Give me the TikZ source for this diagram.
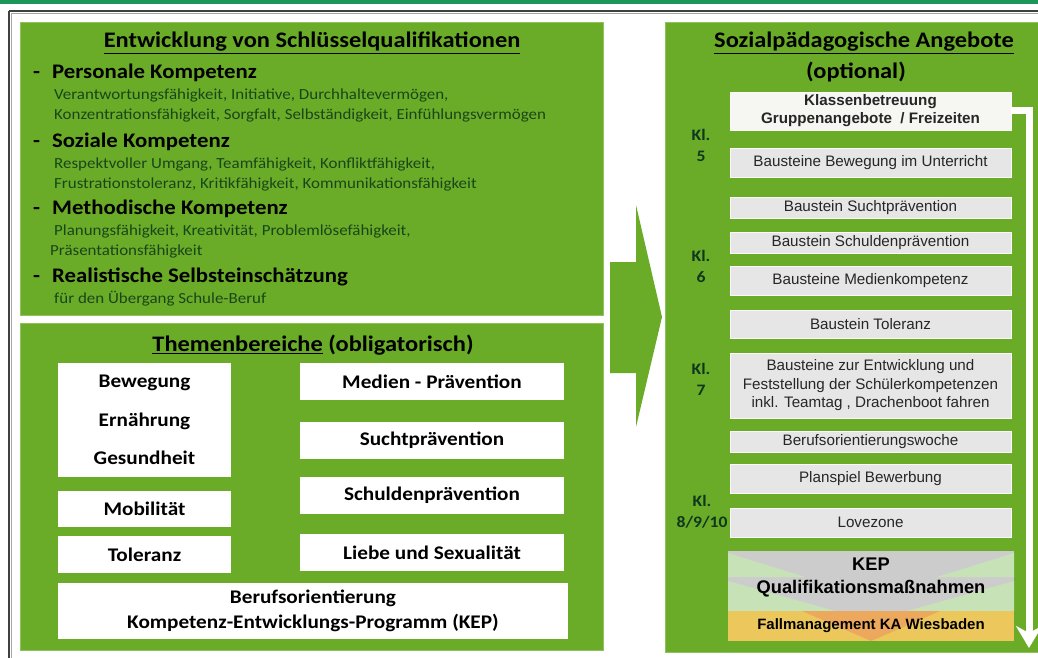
\documentclass[tikz,border=0pt]{standalone}
\usepackage{fontspec}
\setmainfont{Carlito}[FakeStretch=1.1]
\newfontfamily\arialfont{Liberation Sans}
\usetikzlibrary{arrows.meta,positioning}
\definecolor{panelgreen}{RGB}{106,172,40}
\definecolor{topteal}{RGB}{30,150,90}
\definecolor{subgreen}{RGB}{25,70,25}
\definecolor{klgreen}{RGB}{15,55,30}
\definecolor{boxgray}{RGB}{230,230,230}
\definecolor{boxwhite}{RGB}{246,246,242}
\definecolor{keplight}{RGB}{200,226,184}
\definecolor{kepgray}{RGB}{204,204,204}
\definecolor{kepyellow}{RGB}{236,200,92}
\definecolor{keporange}{RGB}{236,168,92}

\begin{document}
\begin{tikzpicture}[x=1pt,y=-1pt,
  every node/.style={inner sep=0pt},
  panel/.style={fill=panelgreen,draw=panelgreen!75!white,line width=0.8pt},
  title/.style={font=\fontsize{22.2}{26}\selectfont\bfseries},
  head/.style={font=\fontsize{20.7}{24}\selectfont\bfseries,anchor=base west},
  detail/.style={font=\fontsize{15.4}{20}\selectfont,text=subgreen,anchor=base west},
  topicbox/.style={fill=white,font=\fontsize{19.3}{25}\selectfont\bfseries,align=center},
  modbox/.style={fill=boxgray,draw=white!85!boxgray,minimum width=281pt,
    font=\arialfont\fontsize{15.2}{18.5}\selectfont,text=black!85,align=center},
  kllabel/.style={font=\fontsize{16}{21}\selectfont\bfseries,text=klgreen,align=center},
  flowline/.style={white,line width=7pt,-{Stealth[length=22pt,width=26pt,inset=7pt]}}]

\useasboundingbox (0,0) rectangle (1038,658);

% frame lines
\fill[topteal] (0,0) rectangle (1038,4);
\draw[black!75,line width=1.6pt] (9,11) -- (1038,11);
\draw[black!35,line width=1pt] (11,13.5) -- (1038,13.5);
\draw[black!75,line width=1.6pt] (9,11) -- (9,658);
\draw[black!35,line width=1pt] (11.5,13.5) -- (11.5,658);

% Schluesselqualifikationen
\draw[panel] (20,22) rectangle (603,315);
\node[title] (skilltitle) at (312,43) {\underline{Entwicklung von Schlüsselqualifikationen}};
\foreach \y/\name/\txt in {79/pers/Personale Kompetenz,147/soz/Soziale Kompetenz,
    214/meth/Methodische Kompetenz,282/real/Realistische Selbsteinschätzung}{
  \node[head] at (33,\y) {-};
  \node[head] (\name) at (52,\y) {\txt};
}
\node[detail] (pers1) at (54,100) {Verantwortungsfähigkeit, Initiative, Durchhaltevermögen,};
\node[detail] (pers2) at (54,120) {Konzentrationsfähigkeit, Sorgfalt, Selbständigkeit, Einfühlungsvermögen};
\node[detail] (soz1) at (54,168) {Respektvoller Umgang, Teamfähigkeit, Konfliktfähigkeit,};
\node[detail] (soz2) at (54,188) {Frustrationstoleranz, Kritikfähigkeit, Kommunikationsfähigkeit};
\node[detail] (meth1) at (54,235) {Planungsfähigkeit, Kreativität, Problemlösefähigkeit,};
\node[detail] (meth2) at (50,255) {Präsentationsfähigkeit};
\node[detail] (real1) at (54,303) {für den Übergang Schule-Beruf};

% Themenbereiche
\draw[panel] (20,323) rectangle (603,650);
\node[title] (topictitle) at (313,345) {\underline{Themenbereiche} (obligatorisch)};
\node[topicbox,minimum width=173pt,minimum height=114pt,
  font=\fontsize{19.3}{38.5}\selectfont\bfseries] (health) at (144.5,420) {Bewegung\\Ernährung\\Gesundheit};
\node[topicbox,minimum width=173pt,minimum height=36pt] (mobil) at (144.5,509) {Mobilität};
\node[topicbox,minimum width=173pt,minimum height=37pt] (toler) at (144.5,554.5) {Toleranz};
\foreach \y/\name/\txt in {381.5/medien/Medien - Prävention,440/sucht/Suchtprävention,
    495.5/schulden/Schuldenprävention,552.5/liebe/Liebe und Sexualität}{
  \node[topicbox,minimum width=264pt,minimum height=37pt] (\name) at (432,\y) {\txt};
}
\node[topicbox,minimum width=510pt,minimum height=56pt] (beruf) at (313,611)
  {Berufsorientierung\\Kompetenz-Entwicklungs-Programm (KEP)};

% Uebergang
\fill[panelgreen] (610,262) -- (636,262) -- (636,205) -- (662,317) -- (636,427)
  -- (636,373) -- (610,373) -- cycle;

% Sozialpaedagogische Angebote
\draw[panel] (665,22) rectangle (1045,652);
\node[title] (offertitle) at (864,43) {\underline{Sozialpädagogische Angebote}};
\node[title] (optional) at (856,72) {(optional)};

\node[modbox,fill=boxwhite,minimum height=38pt,
  font=\arialfont\bfseries\fontsize{15.2}{18}\selectfont] (klasse) at (870.5,111)
  {Klassenbetreuung\\Gruppenangebote~ / Freizeiten};
\foreach \y/\h/\name/\txt in {162.5/29/bewegung/Bausteine Bewegung im Unterricht,
    207.5/21/bsucht/Baustein Suchtprävention,242.5/21/bschulden/Baustein Schuldenprävention,
    280.5/29/bmedien/Bausteine Medienkompetenz,324/28/btoler/Baustein Toleranz,
    385.5/65/bentw/{Bausteine zur Entwicklung und\\Feststellung der Schülerkompetenzen\\inkl. Teamtag , Drachenboot fahren},
    441.5/21/bowoche/Berufsorientierungswoche,478.5/29/planspiel/Planspiel Bewerbung,
    522.5/29/lovezone/Lovezone}{
  \node[modbox,minimum height=\h pt] (\name) at (870.5,\y) {\txt};
}

\node[kllabel] (kl5) at (701,145) {Kl.\\5};
\node[kllabel] (kl6) at (701,266) {Kl.\\6};
\node[kllabel] (kl7) at (701,379) {Kl.\\7};
\node[kllabel] (kl8) at (702,512) {Kl.\\8/9/10};

% KEP
\fill[kepgray] (728,551) rectangle (1014,611);
\fill[keplight] (728,553) -- (805,577) -- (728,577) -- cycle;
\fill[keplight] (728,581) -- (835,611) -- (728,611) -- cycle;
\fill[keplight] (1014,553) -- (937,577) -- (1014,577) -- cycle;
\fill[keplight] (1014,581) -- (907,611) -- (1014,611) -- cycle;
\fill[kepyellow] (728,611) rectangle (1014,641);
\fill[keporange] (802,611) -- (940,611) -- (871,641) -- cycle;
\node[font=\arialfont\bfseries\fontsize{18.3}{23}\selectfont,align=center] (kep) at (871,577)
  {KEP\\Qualifikationsmaßnahmen};
\node[font=\arialfont\bfseries\fontsize{15}{17}\selectfont] (fallm) at (871,626)
  {Fallmanagement KA Wiesbaden};

\coordinate (flowend) at (1029,648);
\draw[flowline] (klasse.east) -| (flowend);
\end{tikzpicture}
\end{document}
